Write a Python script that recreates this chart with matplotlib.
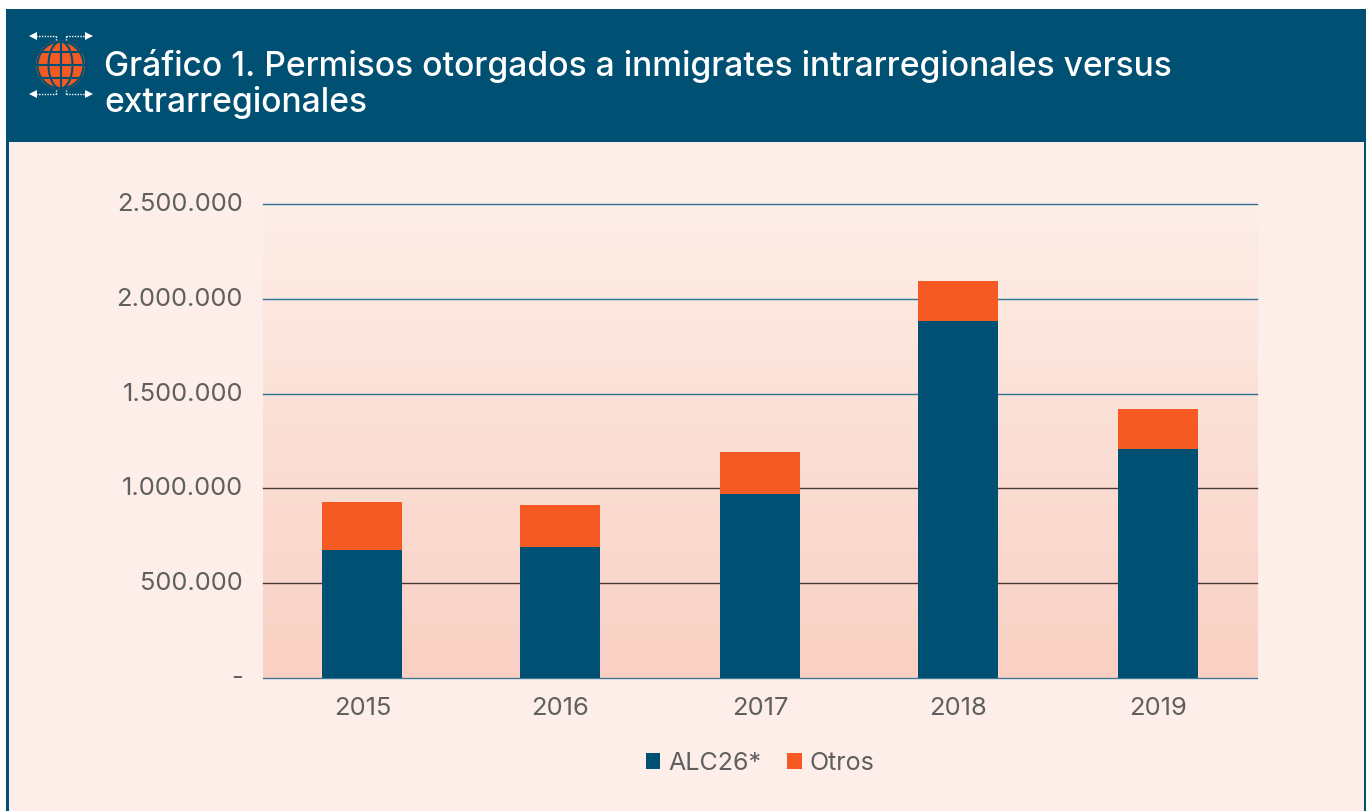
""" plot.py
    Permisos otorgados: stacked bars with a gradient plot area and a header band
"""
import numpy as np
import matplotlib
matplotlib.use('Agg')
import matplotlib.pyplot as plt
from matplotlib.patches import Rectangle, Circle, Ellipse
from matplotlib.transforms import ScaledTranslation

years = ['2015', '2016', '2017', '2018', '2019']
alc26 = [675000, 690000, 970000, 1882000, 1207000]
otros = [253000, 222000, 222000, 211000, 211000]
y_ticks = [0, 500000, 1000000, 1500000, 2000000, 2500000]
y_labels = ['-', '500.000', '1.000.000', '1.500.000', '2.000.000', '2.500.000']
title = 'Gráfico 1. Permisos otorgados a inmigrates intrarregionales versus\nextrarregionales'

BLUE = '#005073'
ORANGE = '#F55A22'
PANEL = '#FDEEE9'
GREY = '#5F5F5F'
W, H = 1366, 811

plt.rcParams['font.family'] = ['Inter', 'DejaVu Sans']
fig = plt.figure(figsize=(W / 100, H / 100), dpi=100, facecolor='white')

# page furniture is laid out in pixels
bg = fig.add_axes([0, 0, 1, 1])
bg.set_xlim(0, W)
bg.set_ylim(H, 0)
bg.axis('off')
bg.add_patch(Rectangle((6, 9), W - 6, H - 9, fc=BLUE, lw=0))
bg.add_patch(Rectangle((9, 142), 1355, H - 142, fc=PANEL, lw=0))

# globe icon
bg.add_patch(Circle((60.5, 65), 24.5, fc=ORANGE, lw=0))
for w in (46, 24):
    bg.add_patch(Ellipse((60.5, 65), w, 47, fc='none', ec=BLUE, lw=1.5))
bg.plot([60.5, 60.5], [41, 89], color=BLUE, lw=1.5)
for yy in (52, 65, 78):
    half = np.sqrt(24 ** 2 - (yy - 65) ** 2)
    bg.plot([60.5 - half, 60.5 + half], [yy, yy], color=BLUE, lw=1.5)
for yy, tip in ((35.5, 39.5), (93.5, 89.5)):
    for x0, x1 in ((33, 55.5), (65.5, 88)):
        bg.plot([x0, x1], [yy, yy], color='white', lw=1, ls=(0, (1, 1)))
    bg.plot([55.5, 55.5], [yy, tip], color='white', lw=1, ls=(0, (1, 1)))
    bg.plot([65.5, 65.5], [yy, tip], color='white', lw=1, ls=(0, (1, 1)))
    bg.plot([32.5], [yy], marker='<', ms=6, color='white', mew=0)
    bg.plot([88.5], [yy], marker='>', ms=6, color='white', mew=0)

bg.text(104, 84, title, color='white', fontsize=24.2, va='center', ha='left', linespacing=1.12, fontweight='medium')

ax = fig.add_axes([263 / W, 1 - 678 / H, 994 / W, 474 / H])
ax.patch.set_alpha(0)
x = [0, 0.994, 2, 2.996, 4]
grad = np.linspace(0, 1, 256).reshape(-1, 1)
cmap = matplotlib.colors.LinearSegmentedColormap.from_list('bgfade', ['#F9D0C3', '#FDEEE7'])
ax.imshow(grad, origin='lower', aspect='auto', cmap=cmap, extent=(-0.5, 4.5, 0, 2500000), zorder=0)

grid_colors = ['#3F7A9C', '#4A3A35', '#4A3A35', '#2F7196', '#2F7196', '#2F7196']
for t, c in zip(y_ticks, grid_colors):
    ax.axhline(t, color=c, lw=1, zorder=1, clip_on=False)

ax.bar(x, alc26, width=0.402, color=BLUE, label='ALC26*', zorder=2)
ax.bar(x, otros, width=0.402, bottom=alc26, color=ORANGE, label='Otros', zorder=2)

ax.set_xlim(-0.5, 4.5)
ax.set_ylim(0, 2500000)
ax.set_xticks(x, years)
ax.set_yticks(y_ticks, y_labels)
ax.tick_params(axis='both', length=0, labelsize=18.4, labelcolor=GREY)
ax.tick_params(axis='x', pad=14)
ax.tick_params(axis='y', pad=14.5)
# labels sit a little above their gridlines in the original
up = ScaledTranslation(0, 1.5 / 72, fig.dpi_scale_trans)
for lab in ax.get_yticklabels():
    lab.set_transform(lab.get_transform() + up)
for s in ax.spines.values():
    s.set_visible(False)

ax.legend(loc='center', bbox_to_anchor=(0.5, -0.18), ncol=2, frameon=False, fontsize=18,
          labelcolor=GREY, handlelength=0.58, handleheight=0.58, handletextpad=0.3, columnspacing=1.05)

fig.savefig('out.png', dpi=100)
